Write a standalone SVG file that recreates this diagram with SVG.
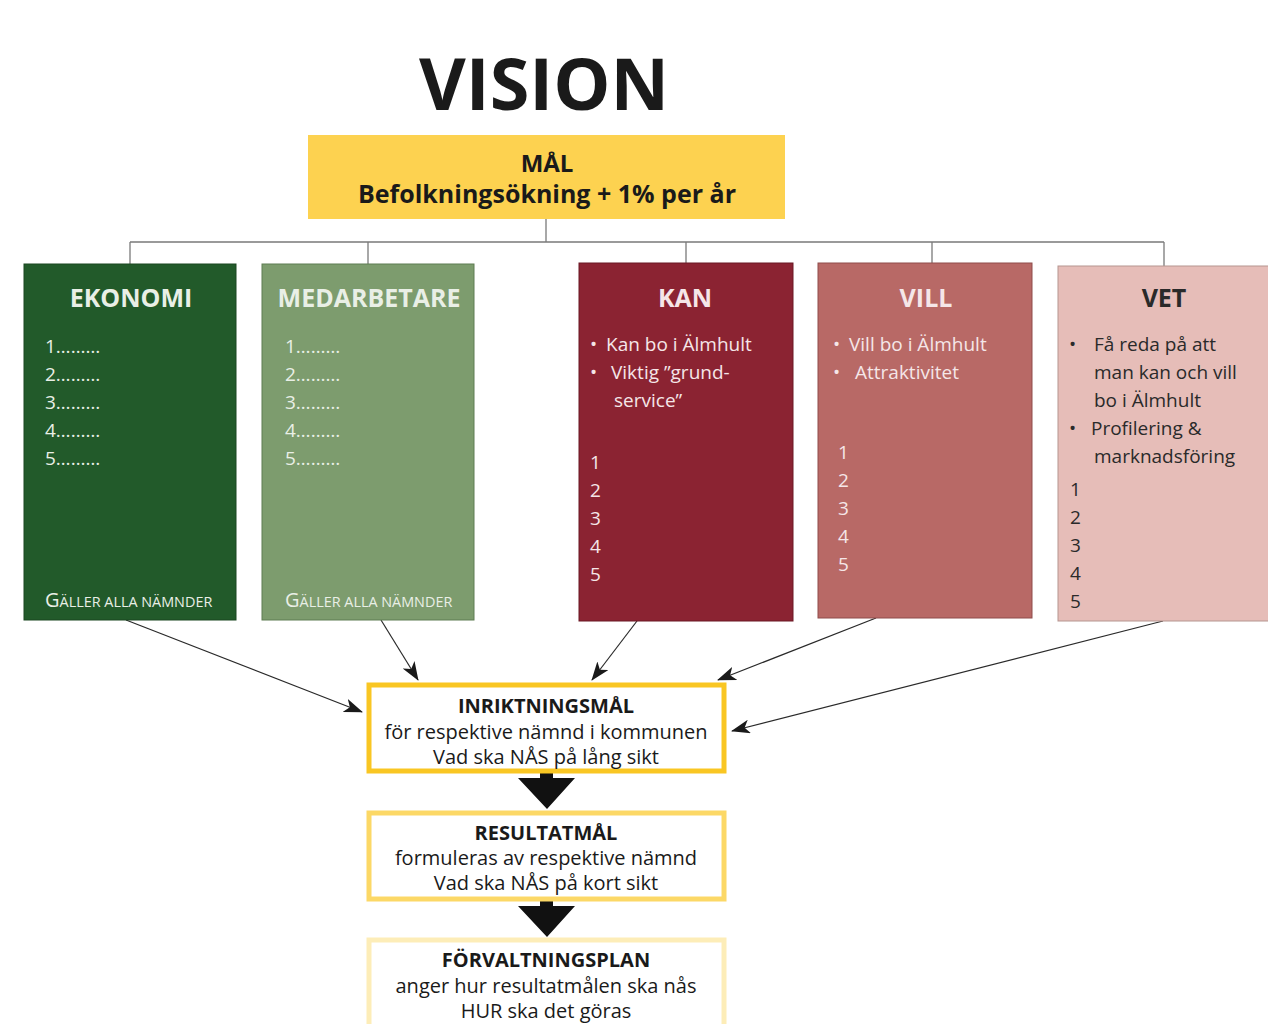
<svg xmlns="http://www.w3.org/2000/svg" width="1268" height="1024" viewBox="0 0 1268 1024">
<defs>
<marker id="ah" markerUnits="userSpaceOnUse" markerWidth="20" markerHeight="14" refX="18" refY="7" orient="auto">
<path d="M0,0 L19,7 L0,14 L5,7 z" fill="#1a1a1a"/>
</marker>
</defs>
<style>
text{font-family:"Open Sans","Noto Sans","Liberation Sans",sans-serif}
.title{font-size:25px;font-weight:700;text-anchor:middle}
.item{font-size:19px;font-weight:400}
.light{fill:#E9EFE6}
.pink{fill:#F5E6E8}
.dark{fill:#2a2a2a}
.tree{stroke:#7a7a7a;stroke-width:1.3;fill:none}
.conn{stroke:#2a2a2a;stroke-width:1.2;fill:none;marker-end:url(#ah)}
.bh{font-size:20px;font-weight:700;text-anchor:middle;fill:#1a1a1a}
.bt{font-size:20px;font-weight:400;text-anchor:middle;fill:#1a1a1a}
.sc1{font-size:20px}
.sc2{font-size:14.4px}
</style>
<rect width="1268" height="1024" fill="#ffffff"/>

<g id="vision">
<text x="544" y="110" font-size="72" font-weight="700" text-anchor="middle" fill="#1a1a1a">VISION</text>
</g>

<g id="mal">
<rect x="308" y="135" width="477" height="84" fill="#FDD250"/>
<text x="547" y="172" font-size="24" font-weight="700" text-anchor="middle" fill="#1a1a1a">MÅL</text>
<text x="547" y="203" font-size="25" font-weight="700" text-anchor="middle" fill="#1a1a1a">Befolkningsökning + 1% per år</text>
</g>

<g id="connectors">
<path class="tree" d="M546,219 V242 M130,242 H1164 M130,242 V264 M368,242 V264 M686,242 V263 M932,242 V263 M1164,242 V266"/>
<line class="conn" x1="126" y1="620" x2="362" y2="712"/>
<line class="conn" x1="381" y1="620" x2="418" y2="680"/>
<line class="conn" x1="637" y1="621" x2="592" y2="680"/>
<line class="conn" x1="876" y1="618" x2="718" y2="680"/>
<line class="conn" x1="1163" y1="621" x2="732" y2="731"/>
<path d="M540,772 H553 V778 H575 L547,809 L518,778 H540 z" fill="#111"/>
<path d="M540,899 H553 V906 H575 L547,937 L518,906 H540 z" fill="#111"/>
</g>

<g id="ekonomi">
<rect x="24" y="264" width="212" height="356" fill="#225A2A" stroke="#1a4620" stroke-width="1"/>
<text class="title light" x="131" y="307">EKONOMI</text>
<text class="item light" x="45" y="353">1………</text>
<text class="item light" x="45" y="381">2………</text>
<text class="item light" x="45" y="409">3………</text>
<text class="item light" x="45" y="437">4………</text>
<text class="item light" x="45" y="465">5………</text>
<text class="light" x="45" y="607"><tspan class="sc1">G</tspan><tspan class="sc2">ÄLLER ALLA NÄMNDER</tspan></text>
</g>

<g id="medarbetare">
<rect x="262" y="264" width="212" height="356" fill="#7D9C6E" stroke="#5f7d52" stroke-width="1"/>
<text class="title light" x="369" y="307">MEDARBETARE</text>
<text class="item light" x="285" y="353">1………</text>
<text class="item light" x="285" y="381">2………</text>
<text class="item light" x="285" y="409">3………</text>
<text class="item light" x="285" y="437">4………</text>
<text class="item light" x="285" y="465">5………</text>
<text class="light" x="285" y="607"><tspan class="sc1">G</tspan><tspan class="sc2">ÄLLER ALLA NÄMNDER</tspan></text>
</g>

<g id="kan">
<rect x="579" y="263" width="214" height="358" fill="#8B2332" stroke="#6a1825" stroke-width="1"/>
<text class="title pink" x="685" y="307">KAN</text>
<text class="item pink" x="590" y="351">•</text>
<text class="item pink" x="606" y="351">Kan bo i Älmhult</text>
<text class="item pink" x="590" y="379">•</text>
<text class="item pink" x="611" y="379">Viktig ”grund-</text>
<text class="item pink" x="614" y="407">service”</text>
<text class="item pink" x="590" y="469">1</text>
<text class="item pink" x="590" y="497">2</text>
<text class="item pink" x="590" y="525">3</text>
<text class="item pink" x="590" y="553">4</text>
<text class="item pink" x="590" y="581">5</text>
</g>

<g id="vill">
<rect x="818" y="263" width="214" height="355" fill="#B86966" stroke="#8f4d4b" stroke-width="1"/>
<text class="title pink" x="926" y="307">VILL</text>
<text class="item pink" x="833" y="351">•</text>
<text class="item pink" x="849" y="351">Vill bo i Älmhult</text>
<text class="item pink" x="833" y="379">•</text>
<text class="item pink" x="855" y="379">Attraktivitet</text>
<text class="item pink" x="838" y="459">1</text>
<text class="item pink" x="838" y="487">2</text>
<text class="item pink" x="838" y="515">3</text>
<text class="item pink" x="838" y="543">4</text>
<text class="item pink" x="838" y="571">5</text>
</g>

<g id="vet">
<rect x="1058" y="266" width="214" height="355" fill="#E6BDB8" stroke="#b59590" stroke-width="1"/>
<text class="title dark" x="1164" y="307">VET</text>
<text class="item dark" x="1069" y="351">•</text>
<text class="item dark" x="1094" y="351">Få reda på att</text>
<text class="item dark" x="1094" y="379">man kan och vill</text>
<text class="item dark" x="1094" y="407">bo i Älmhult</text>
<text class="item dark" x="1069" y="435">•</text>
<text class="item dark" x="1091" y="435">Profilering &amp;</text>
<text class="item dark" x="1094" y="463">marknadsföring</text>
<text class="item dark" x="1070" y="496">1</text>
<text class="item dark" x="1070" y="524">2</text>
<text class="item dark" x="1070" y="552">3</text>
<text class="item dark" x="1070" y="580">4</text>
<text class="item dark" x="1070" y="608">5</text>
</g>

<g id="inriktningsmal">
<rect x="369" y="685" width="355" height="86" fill="#ffffff" stroke="#F9C623" stroke-width="5"/>
<text class="bh" x="546" y="713">INRIKTNINGSMÅL</text>
<text class="bt" x="546" y="739">för respektive nämnd i kommunen</text>
<text class="bt" x="546" y="764">Vad ska NÅS på lång sikt</text>
</g>

<g id="resultatmal">
<rect x="369" y="813" width="355" height="86" fill="#ffffff" stroke="#FCD866" stroke-width="5"/>
<text class="bh" x="546" y="840">RESULTATMÅL</text>
<text class="bt" x="546" y="865">formuleras av respektive nämnd</text>
<text class="bt" x="546" y="890">Vad ska NÅS på kort sikt</text>
</g>

<g id="forvaltningsplan">
<rect x="369" y="940" width="355" height="100" fill="#ffffff" stroke="#FDEDB8" stroke-width="5"/>
<text class="bh" x="546" y="967">FÖRVALTNINGSPLAN</text>
<text class="bt" x="546" y="993">anger hur resultatmålen ska nås</text>
<text class="bt" x="546" y="1018">HUR ska det göras</text>
</g>
</svg>
